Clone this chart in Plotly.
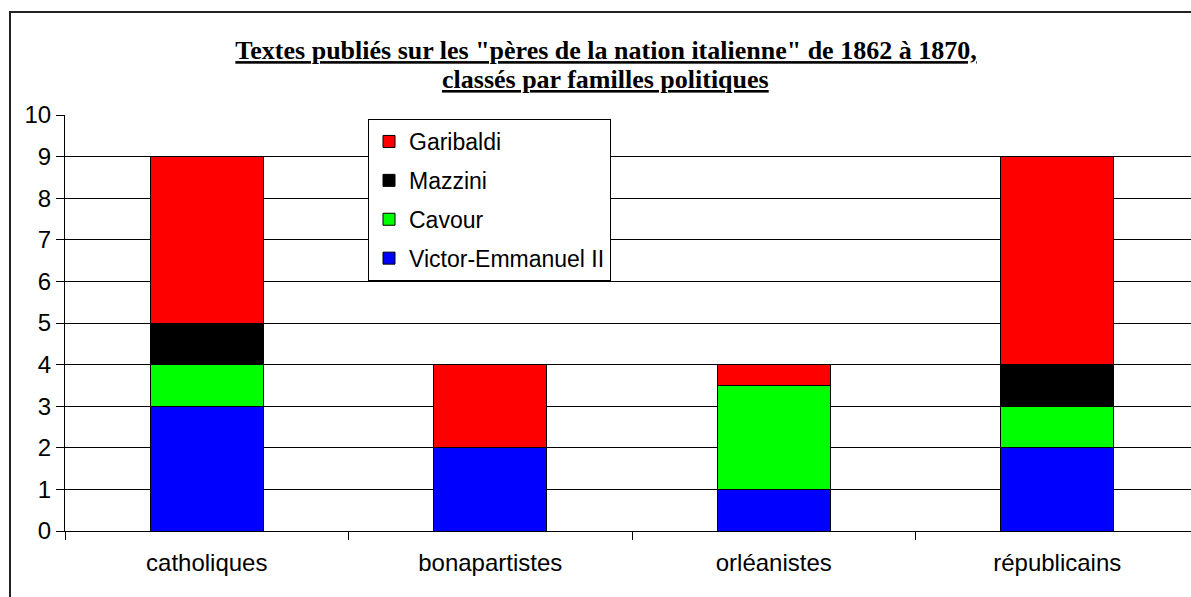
import plotly.graph_objects as go

categories = ["catholiques", "bonapartistes", "orléanistes", "républicains"]
victor_emmanuel = [3, 2, 1, 2]
cavour = [1, 0, 2.5, 1]
mazzini = [1, 0, 0, 1]
garibaldi = [4, 2, 0.5, 5]

series = [
    ("Victor-Emmanuel II", victor_emmanuel, "#0000FF", 4),
    ("Cavour", cavour, "#00FF00", 3),
    ("Mazzini", mazzini, "#000000", 2),
    ("Garibaldi", garibaldi, "#FF0000", 1),
]

fig = go.Figure()
for name, vals, color, rank in series:
    fig.add_trace(go.Bar(
        x=categories, y=vals, name=name, legendgroup=name, legendrank=rank,
        marker=dict(color=color, line=dict(color="black", width=1)),
        width=0.4,
    ))

W, H = 1191, 597
L, T, B = 65, 115, 66
pw = W - L
ph = H - T - B
cat_px = 283.5

def px_x(px):
    return (px - L) / pw

def px_y(py):
    return (H - B - py) / ph

fig.update_layout(
    width=W, height=H,
    margin=dict(l=L, r=0, t=T, b=B, pad=0),
    barmode="stack",
    plot_bgcolor="white", paper_bgcolor="white",
    font=dict(family="Liberation Sans, Arial", color="black", size=24),
    title=dict(
        text="<b><u>Textes publiés sur les \"pères de la nation italienne\" de 1862 à 1870,</u></b>",
        font=dict(family="Liberation Serif, Times New Roman", size=26, color="black"),
        x=606 / W, xref="container", xanchor="center",
        y=1 - 50 / H, yref="container", yanchor="middle",
    ),
    legend=dict(
        x=px_x(368), y=px_y(119), xanchor="left", yanchor="top",
        bordercolor="black", borderwidth=1, bgcolor="white",
        font=dict(size=23, family="Liberation Sans, Arial"),
        traceorder="grouped", tracegroupgap=6,
    ),
    showlegend=True,
)

fig.add_annotation(
    text="<b><u>classés par familles politiques</u></b>",
    font=dict(family="Liberation Serif, Times New Roman", size=26, color="black"),
    xref="paper", yref="paper", x=px_x(605), y=px_y(80),
    xanchor="center", yanchor="middle", showarrow=False,
)

fig.update_yaxes(
    range=[0, 10], dtick=1, tick0=0,
    showgrid=True, gridcolor="black", gridwidth=1,
    showline=True, linecolor="black", linewidth=1,
    ticks="outside", ticklen=8, tickcolor="black",
    tickfont=dict(size=24), zeroline=False,
)
fig.update_xaxes(
    range=[-0.5, -0.5 + pw / cat_px],
    showline=True, linecolor="black", linewidth=1,
    ticks="outside", ticklen=8, tickcolor="black", tickson="boundaries",
    tickfont=dict(size=24), ticklabelstandoff=10,
)

fig.add_shape(
    type="rect", xref="paper", yref="paper",
    x0=px_x(10), x1=px_x(1200), y0=px_y(605), y1=px_y(12),
    line=dict(color="#222222", width=2), fillcolor="rgba(0,0,0,0)", layer="above",
)

fig.write_html("out.html", post_script="document.body.style.margin='0';",
               config={"displayModeBar": False})
